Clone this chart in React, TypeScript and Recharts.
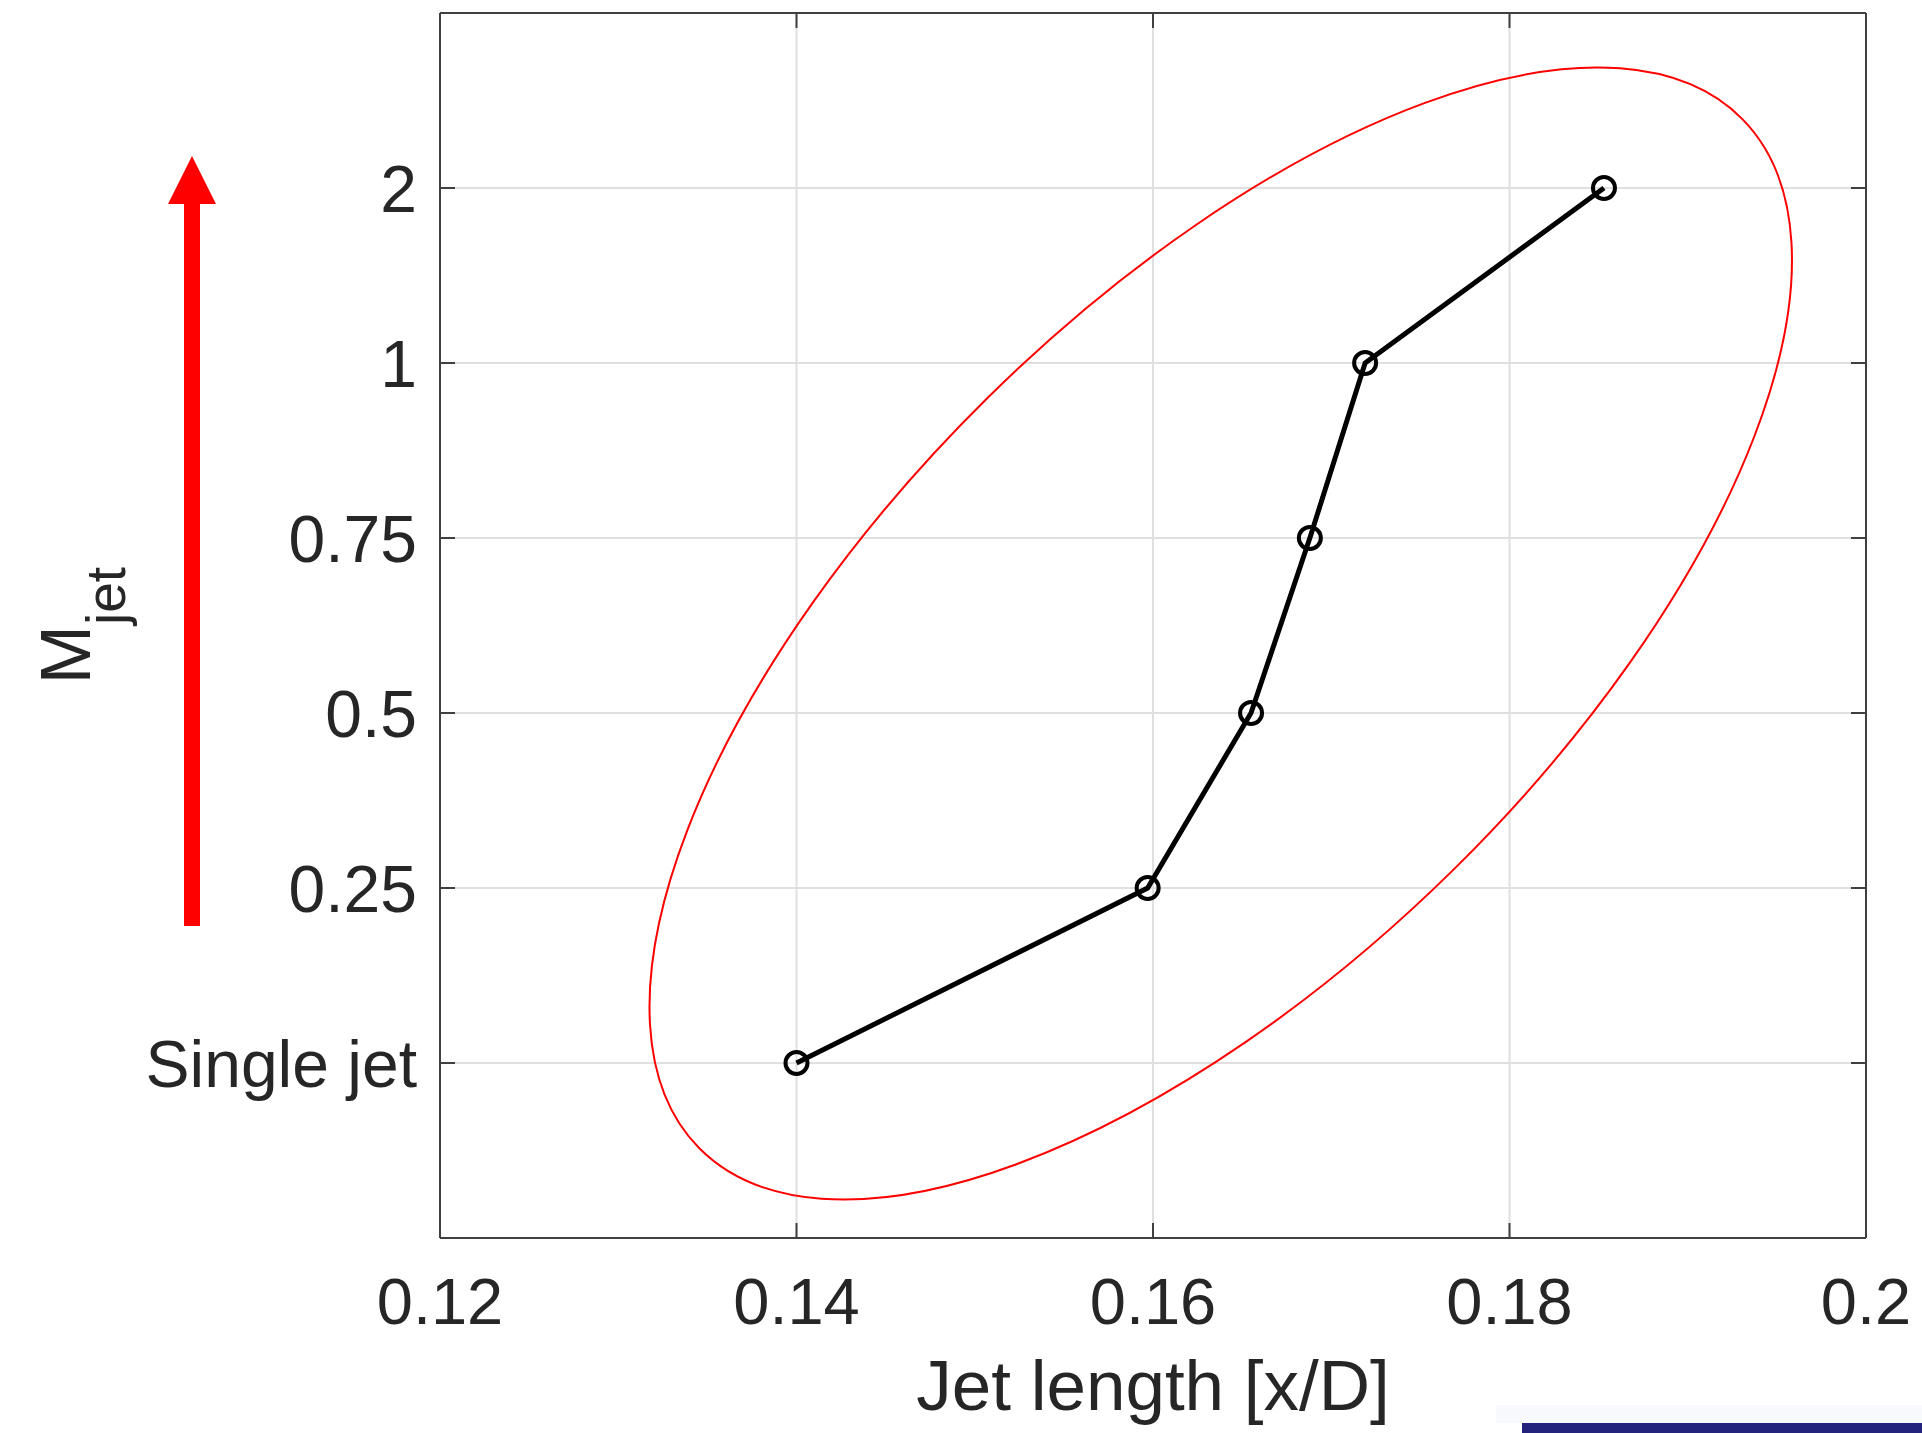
import { CartesianGrid, Customized, Line, LineChart, ReferenceDot, XAxis, YAxis } from "recharts"

const mjetLabels = ["Single jet", "0.25", "0.5", "0.75", "1", "2"]
const jetLength = [0.14, 0.1597, 0.1655, 0.1688, 0.1719, 0.1853]
const xTicks = [0.12, 0.14, 0.16, 0.18, 0.2]
const yTicks = [0, 1, 2, 3, 4, 5]

// red ellipse drawn around the curve: centre in data units, semi-axes in x units, tilt in degrees
const ellipse = { x: 0.1638, y: 2.454, a: 0.0411, b: 0.0186, angle: 44.6 }

const data = jetLength.map((x, i) => ({ x, y: i }))

const W = 1922
const H = 1433
const Y_AXIS_W = 440
const X_AXIS_H = 195
const MARGIN = { top: 12, right: 55, left: 0, bottom: 0 }
const PLOT_W = W - Y_AXIS_W - MARGIN.right - 1
const TEXT = "#262626"
const AXIS = "#404040"
const FONT = '"Liberation Sans", Arial, Helvetica, sans-serif'
const TICK_LEN = 15

function BottomTick({ x, y, payload }: any) {
  return (
    <g>
      <line x1={x} y1={y} x2={x} y2={y - TICK_LEN} stroke={AXIS} strokeWidth={2} />
      <text x={x} y={y + 86} textAnchor="middle" fill={TEXT} fontSize={65} fontFamily={FONT}>
        {String(payload.value)}
      </text>
    </g>
  )
}

function TopTick({ x, y }: any) {
  return <line x1={x} y1={y} x2={x} y2={y + TICK_LEN} stroke={AXIS} strokeWidth={2} />
}

function LeftTick({ x, y, payload }: any) {
  return (
    <g>
      <line x1={x} y1={y} x2={x + TICK_LEN} y2={y} stroke={AXIS} strokeWidth={2} />
      <text x={x - 23} y={y} dy="0.36em" textAnchor="end" fill={TEXT} fontSize={66} fontFamily={FONT}>
        {mjetLabels[payload.value]}
      </text>
    </g>
  )
}

function RightTick({ x, y }: any) {
  return <line x1={x} y1={y} x2={x - TICK_LEN} y2={y} stroke={AXIS} strokeWidth={2} />
}

function EllipseShape({ cx, cy }: any) {
  const k = PLOT_W / (0.2 - 0.12)
  return (
    <ellipse
      cx={cx}
      cy={cy}
      rx={ellipse.a * k}
      ry={ellipse.b * k}
      transform={`rotate(${-ellipse.angle} ${cx} ${cy})`}
      fill="none"
      stroke="#ff0000"
      strokeWidth={2}
    />
  )
}

function YLabel({ viewBox }: any) {
  const cy = viewBox ? viewBox.y + viewBox.height / 2 : 625
  return (
    <text
      x={90}
      y={cy}
      transform={`rotate(-90 90 ${cy})`}
      textAnchor="middle"
      fill={TEXT}
      fontSize={71}
      fontFamily={FONT}
    >
      M
      <tspan dy={35} fontSize={55}>jet</tspan>
    </text>
  )
}

function Decorations() {
  return (
    <g>
      {/* big red arrow on the left */}
      <rect x={184} y={200} width={16} height={726} fill="#ff0000" />
      <polygon points="168,204 216,204 192,156" fill="#ff0000" />
      {/* strip at the bottom right edge */}
      <rect x={1496} y={1405} width={426} height={18} fill="#f8f9fd" />
      <rect x={1522} y={1423} width={400} height={10} fill="#23237e" />
    </g>
  )
}

export default function App() {
  return (
    <div style={{ width: W, height: H, background: "#fff" }}>
      <style>{"body{margin:0;overflow:hidden}"}</style>
      <LineChart width={W} height={H} data={data} margin={MARGIN}>
        <CartesianGrid stroke="#e0e0e0" strokeWidth={2} />
        <XAxis
          dataKey="x"
          type="number"
          domain={[0.12, 0.2]}
          ticks={xTicks}
          allowDataOverflow
          height={X_AXIS_H}
          stroke={AXIS}
          strokeWidth={2}
          tickLine={false}
          tickSize={0}
          tickMargin={0}
          tick={<BottomTick />}
          interval={0}
          label={{
            value: "Jet length [x/D]",
            position: "insideBottom",
            offset: 23,
            fill: TEXT,
            fontSize: 71,
            fontFamily: FONT,
          }}
        />
        <XAxis
          xAxisId="top"
          dataKey="x"
          orientation="top"
          type="number"
          domain={[0.12, 0.2]}
          ticks={xTicks}
          allowDataOverflow
          height={1}
          stroke={AXIS}
          strokeWidth={2}
          tickLine={false}
          tickSize={0}
          tickMargin={0}
          tick={<TopTick />}
          interval={0}
        />
        <YAxis
          type="number"
          domain={[-1, 6]}
          ticks={yTicks}
          allowDataOverflow
          width={Y_AXIS_W}
          stroke={AXIS}
          strokeWidth={2}
          tickLine={false}
          tickSize={0}
          tickMargin={0}
          tick={<LeftTick />}
          interval={0}
          label={{ content: <YLabel /> }}
        />
        <YAxis
          yAxisId="right"
          orientation="right"
          type="number"
          domain={[-1, 6]}
          ticks={yTicks}
          allowDataOverflow
          width={1}
          stroke={AXIS}
          strokeWidth={2}
          tickLine={false}
          tickSize={0}
          tickMargin={0}
          tick={<RightTick />}
          interval={0}
        />
        <ReferenceDot x={ellipse.x} y={ellipse.y} shape={EllipseShape} ifOverflow="visible" />
        {/* invisible twin so the top and right box axes get drawn */}
        <Line
          xAxisId="top"
          yAxisId="right"
          dataKey="y"
          stroke="none"
          dot={false}
          activeDot={false}
          legendType="none"
          isAnimationActive={false}
        />
        <Line
          dataKey="y"
          type="linear"
          stroke="#000"
          strokeWidth={5}
          dot={{ r: 11, fill: "none", stroke: "#000", strokeWidth: 4 }}
          activeDot={false}
          isAnimationActive={false}
        />
        <Customized component={<Decorations />} />
      </LineChart>
    </div>
  )
}
